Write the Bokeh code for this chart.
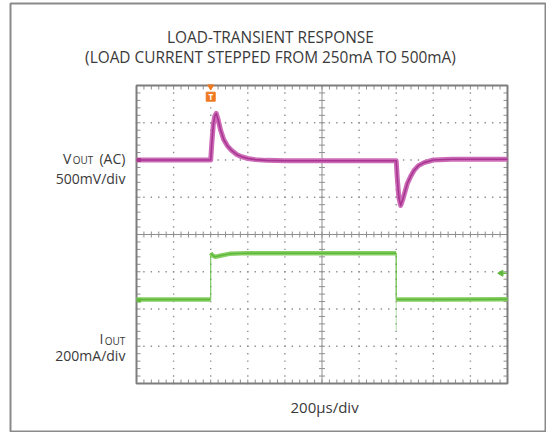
import numpy as np
from bokeh.plotting import figure
from bokeh.models import Label, Range1d
from bokeh.embed import file_html
from bokeh.resources import INLINE

# ---------------- data (time and amplitude in scope divisions) ----------------
# time axis: 10 divisions, 200us/div ; vertical: 8 divisions, 0 at screen centre
vout_t = [0.0, 1.0, 2.0, 2.03, 2.07, 2.11, 2.15, 2.20, 2.27, 2.35, 2.45, 2.56,
          2.70, 2.83, 3.0, 3.2, 3.5, 4.0, 5.0, 6.0, 7.0, 7.03, 7.07, 7.12,
          7.18, 7.30, 7.40, 7.48, 7.60, 7.75, 8.0, 8.5, 9.0, 10.0]
vout_y = [2.00, 2.00, 2.00, 2.45, 2.95, 3.18, 3.25, 3.08, 2.79, 2.55, 2.38, 2.26,
          2.15, 2.09, 2.04, 2.01, 1.99, 1.98, 1.98, 1.98, 1.98, 1.50, 1.00, 0.78,
          0.95, 1.37, 1.58, 1.72, 1.85, 1.93, 2.00, 2.02, 2.02, 2.02]

iout_t = [0.0, 2.0, 2.0, 2.05, 2.12, 2.25, 2.5, 3.0, 5.0, 7.0, 7.0, 8.5, 10.0]
iout_y = [-1.745, -1.745, -0.50, -0.56, -0.60, -0.57, -0.52, -0.50, -0.50, -0.50,
          -1.745, -1.745, -1.74]
iout_glitch_t = [7.0, 7.0]
iout_glitch_y = [-0.50, -2.58]

trigger_t = 2.0
vout_ref = 2.0
iout_ref = -1.77
iout_gnd_marker = -1.04

title_lines = ["LOAD-TRANSIENT RESPONSE", "(LOAD CURRENT STEPPED FROM 250mA TO 500mA)"]
time_label = "200µs/div"
vout_name = ("V", "OUT", "(AC)")
vout_scale = "500mV/div"
iout_name = ("I", "OUT")
iout_scale = "200mA/div"

N_X_DIV, N_Y_DIV = 10, 8

# ---------------- figure ----------------
FONT = "Open Sans"
TXT = "#3a3a3a"
GRID = "#8f8f8f"
EDGE = "#7d7d7d"
MAG_BAND, MAG_CORE = "#cc6cb8", "#a8358f"
GRN_BAND, GRN_CORE = "#86cf63", "#5fb83c"

# the whole framed card is the plot frame; the scope screen spans 0..10 x -4..4
PX_X, PX_Y = 37.1, 37.25
p = figure(width=546, height=432,
           x_range=Range1d((10 - 136) / PX_X, (545 - 136) / PX_X),
           y_range=Range1d((234 - 431) / PX_Y, (234 - 3) / PX_Y),
           output_backend="svg", toolbar_location=None,
           min_border_left=10, min_border_right=1, min_border_top=3, min_border_bottom=1)
p.axis.visible = False
p.grid.visible = False
p.outline_line_color = "#8a8a8a"
p.outline_line_width = 2
p.background_fill_color = "white"
p.border_fill_color = "white"

X0, X1 = 0, N_X_DIV
Y0, Y1 = -N_Y_DIV / 2, N_Y_DIV / 2
minor_x = np.arange(X0, X1 + 0.001, 0.2)
minor_y = np.arange(Y0, Y1 + 0.001, 0.2)

# dotted graticule: dots at each minor step along every major division line
gx, gy = [], []
for yy in range(-N_Y_DIV // 2 + 1, N_Y_DIV // 2):
    if yy != 0:
        gx.extend(minor_x); gy.extend([yy] * len(minor_x))
for xx in range(1, N_X_DIV):
    if xx != N_X_DIV // 2:
        gx.extend([xx] * len(minor_y)); gy.extend(minor_y)
p.scatter(gx, gy, marker="square", size=1.4, fill_color=GRID, line_color=None)

# centre cross lines with ticks
p.segment(x0=[X0, N_X_DIV / 2], y0=[0, Y0], x1=[X1, N_X_DIV / 2], y1=[0, Y1],
          line_color=GRID, line_width=1)
p.scatter(x=minor_x, y=np.zeros_like(minor_x), marker="dash", size=6, angle=np.pi / 2,
          line_color=GRID, line_width=1)
p.scatter(x=np.full_like(minor_y, N_X_DIV / 2), y=minor_y, marker="dash", size=6,
          line_color=GRID, line_width=1)

# inward ticks on screen edges (4 px)
tx, ty = 4 / PX_X, 4 / PX_Y
p.segment(x0=minor_x, y0=np.full_like(minor_x, Y0), x1=minor_x, y1=np.full_like(minor_x, Y0 + ty),
          line_color=GRID, line_width=1)
p.segment(x0=minor_x, y0=np.full_like(minor_x, Y1), x1=minor_x, y1=np.full_like(minor_x, Y1 - ty),
          line_color=GRID, line_width=1)
p.segment(x0=np.full_like(minor_y, X0), y0=minor_y, x1=np.full_like(minor_y, X0 + tx), y1=minor_y,
          line_color=GRID, line_width=1)
p.segment(x0=np.full_like(minor_y, X1), y0=minor_y, x1=np.full_like(minor_y, X1 - tx), y1=minor_y,
          line_color=GRID, line_width=1)

# screen outline
p.quad(left=[X0], right=[X1], bottom=[Y0], top=[Y1], fill_color=None,
       line_color=EDGE, line_width=2)

# ---------------- traces ----------------
p.line(vout_t, vout_y, line_color=MAG_BAND, line_width=5, line_join="round")
p.line(vout_t, vout_y, line_color=MAG_CORE, line_width=1.6, line_join="round")

# current: thick horizontal runs, thin vertical edges
runs_x, runs_y, edge_x0, edge_y0, edge_y1 = [], [], [], [], []
cur_x, cur_y = [iout_t[0]], [iout_y[0]]
for i in range(1, len(iout_t)):
    if iout_t[i] == iout_t[i - 1]:
        runs_x.append(cur_x); runs_y.append(cur_y)
        edge_x0.append(iout_t[i]); edge_y0.append(iout_y[i - 1]); edge_y1.append(iout_y[i])
        cur_x, cur_y = [iout_t[i]], [iout_y[i]]
    else:
        cur_x.append(iout_t[i]); cur_y.append(iout_y[i])
runs_x.append(cur_x); runs_y.append(cur_y)
p.segment(x0=iout_glitch_t[0], y0=iout_glitch_y[0], x1=iout_glitch_t[1], y1=iout_glitch_y[1],
          line_color=GRN_CORE, line_width=1, line_alpha=0.45)
p.segment(x0=edge_x0, y0=edge_y0, x1=edge_x0, y1=edge_y1, line_color=GRN_CORE,
          line_width=1.2, line_alpha=0.8)
p.multi_line(runs_x, runs_y, line_color=GRN_BAND, line_width=4.5)
p.multi_line(runs_x, runs_y, line_color=GRN_CORE, line_width=1.5)

# markers
ORANGE = "#f07a22"
p.scatter([trigger_t], [Y1 - 0.03], marker="inverted_triangle", size=6,
          fill_color=ORANGE, line_color=ORANGE)
p.scatter([trigger_t], [Y1 - 0.30], marker="square", size=9,
          fill_color=ORANGE, line_color=ORANGE)
p.add_layout(Label(x=trigger_t, y=Y1 - 0.30, text="T", text_color="white",
                   text_font=FONT, text_font_size="8px", text_font_style="bold",
                   text_align="center", text_baseline="middle"))
p.scatter([0.07], [vout_ref], marker="square", size=4, fill_color=MAG_CORE, line_color=None)
p.scatter([0.07], [iout_ref], marker="square", size=4, fill_color=GRN_CORE, line_color=None)
p.scatter([X1 - 0.17], [iout_gnd_marker], marker="triangle", angle=np.pi / 2, size=6,
          fill_color=GRN_CORE, line_color=GRN_CORE)
p.scatter([X1 - 0.09], [iout_gnd_marker], marker="dash", size=5,
          line_color=GRN_CORE, line_width=1.5)

# ---------------- texts ----------------
def lab(x, y, text, size="14px", align="left", baseline="alphabetic", x_off=0, color=TXT):
    p.add_layout(Label(x=x, y=y, text=text, text_font=FONT, text_font_size=size,
                       text_color=color, text_align=align, text_baseline=baseline,
                       x_offset=x_off))

lab(3.61, 5.29, title_lines[0], "15.4px", "center")
lab(3.61, 4.76, title_lines[1], "15.4px", "center")
lab(5.07, -4.64, time_label, "15px", "center")

LX = -0.30
lab(LX, 2.04, vout_name[2], "14px", "right")
lab(LX, 1.99, vout_name[1], "10px", "right", x_off=-32)
lab(LX, 2.04, vout_name[0], "14px", "right", x_off=-54)
lab(LX, 1.51, vout_scale, "14px", "right")

lab(LX, -2.85, iout_name[1], "10px", "right")
lab(LX, -2.79, iout_name[0], "14px", "right", x_off=-22)
lab(LX, -3.25, iout_scale, "14px", "right")

open("out.html", "w").write(file_html(p, INLINE))
